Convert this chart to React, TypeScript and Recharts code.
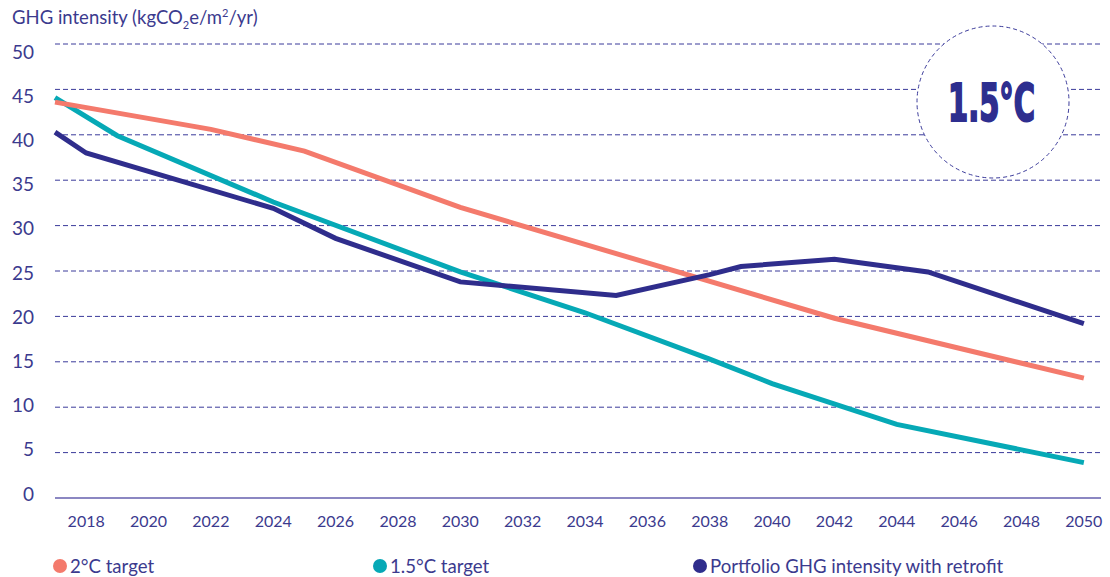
import React from 'react';
import { LineChart, Line, XAxis, YAxis, CartesianGrid } from 'recharts';

const YEAR_TICKS = [2018, 2020, 2022, 2024, 2026, 2028, 2030, 2032, 2034, 2036, 2038, 2040, 2042, 2044, 2046, 2048, 2050];
const VALUE_TICKS = [0, 5, 10, 15, 20, 25, 30, 35, 40, 45, 50];

// 2°C target pathway
const target2C = [
  { year: 2017, value: 43.6 },
  { year: 2022, value: 40.6 },
  { year: 2025, value: 38.2 },
  { year: 2030, value: 32.0 },
  { year: 2042, value: 19.8 },
  { year: 2050, value: 13.2 },
];

// 1.5°C target pathway
const target15C = [
  { year: 2017, value: 44.1 },
  { year: 2019, value: 39.9 },
  { year: 2024, value: 32.6 },
  { year: 2030, value: 24.9 },
  { year: 2034, value: 20.4 },
  { year: 2038, value: 15.3 },
  { year: 2040, value: 12.6 },
  { year: 2044, value: 8.1 },
  { year: 2050, value: 3.9 },
];

// Portfolio GHG intensity with retrofit
const portfolio = [
  { year: 2017, value: 40.3 },
  { year: 2018, value: 38.0 },
  { year: 2024, value: 31.9 },
  { year: 2026, value: 28.6 },
  { year: 2030, value: 23.8 },
  { year: 2035, value: 22.3 },
  { year: 2038, value: 24.6 },
  { year: 2039, value: 25.5 },
  { year: 2042, value: 26.3 },
  { year: 2045, value: 24.9 },
  { year: 2050, value: 19.2 },
];

const LEGEND = [
  { name: '2°C target', color: '#F47A6C' },
  { name: '1.5°C target', color: '#06A9B6' },
  { name: 'Portfolio GHG intensity with retrofit', color: '#2F2D8C' },
];

const TEXT = '#3B3A8E';
const FONT = 'Lato, "Open Sans", sans-serif';

// labels sit a little off the grid lines in the original
const YTick = ({ x, y, payload }: any) => {
  const shift = -4 + 0.24 * payload.value;
  return (
    <text x={x} y={y + shift} dy="0.35em" textAnchor="end" fill={TEXT} fontSize={19} fontFamily={FONT}>
      {payload.value}
    </text>
  );
};

const App = () => {
  return (
    <div style={{ position: 'absolute', left: 0, top: 0, width: 1110, height: 577, background: '#fff', fontFamily: FONT }}>
      <div style={{ position: 'absolute', left: 12, top: 6, fontSize: 18.5, color: TEXT, whiteSpace: 'nowrap' }}>
        GHG intensity (kgCO<sub style={{ fontSize: 11 }}>2</sub>e/m<sup style={{ fontSize: 11 }}>2</sup>/yr)
      </div>

      <LineChart width={1110} height={577} margin={{ top: 44, right: 9, left: 5, bottom: 30 }}>
        <CartesianGrid vertical={false} stroke="#3A3A9A" strokeDasharray="5 3" />
        <XAxis
          type="number"
          dataKey="year"
          domain={[2017, 2050.55]}
          ticks={YEAR_TICKS}
          tickLine={false}
          axisLine={{ stroke: '#8B87C2', strokeWidth: 2 }}
          tick={{ fill: TEXT, fontSize: 16, fontFamily: FONT }}
          tickMargin={12}
          height={49}
          allowDuplicatedCategory={false}
        />
        <YAxis
          type="number"
          domain={[0, 50]}
          ticks={VALUE_TICKS}
          tickLine={false}
          axisLine={false}
          width={50}
          tickMargin={15}
          tick={<YTick />}
        />
        <Line data={target15C} dataKey="value" type="linear" stroke="#06A9B6" strokeWidth={5} dot={false} isAnimationActive={false} />
        <Line data={target2C} dataKey="value" type="linear" stroke="#F47A6C" strokeWidth={5} dot={false} isAnimationActive={false} />
        <Line data={portfolio} dataKey="value" type="linear" stroke="#2F2D8C" strokeWidth={5} dot={false} isAnimationActive={false} />
      </LineChart>

      <svg width={1110} height={577} style={{ position: 'absolute', left: 0, top: 0, pointerEvents: 'none' }}>
        <circle cx={993} cy={102} r={76} fill="#fff" stroke="#3A3A9A" strokeWidth={1} strokeDasharray="4 3" />
        <text
          x={948}
          y={121}
          textLength={87}
          lengthAdjust="spacingAndGlyphs"
          fill="#2E2E8F"
          stroke="#2E2E8F"
          strokeWidth={2}
          fontSize={51}
          fontWeight={900}
          fontFamily='"Liberation Sans Narrow", "DejaVu Sans Condensed", Roboto, sans-serif'
        >
          1.5°C
        </text>
      </svg>

      <div style={{ position: 'absolute', left: 53, top: 555, display: 'flex' }}>
        {LEGEND.map((item) => (
          <div key={item.name} style={{ width: 320, display: 'flex', alignItems: 'center', color: TEXT, fontSize: 18.6 }}>
            <span style={{ width: 14, height: 14, borderRadius: 7, background: item.color, marginRight: 3, display: 'inline-block' }} />
            {item.name}
          </div>
        ))}
      </div>
    </div>
  );
};

export default App;
